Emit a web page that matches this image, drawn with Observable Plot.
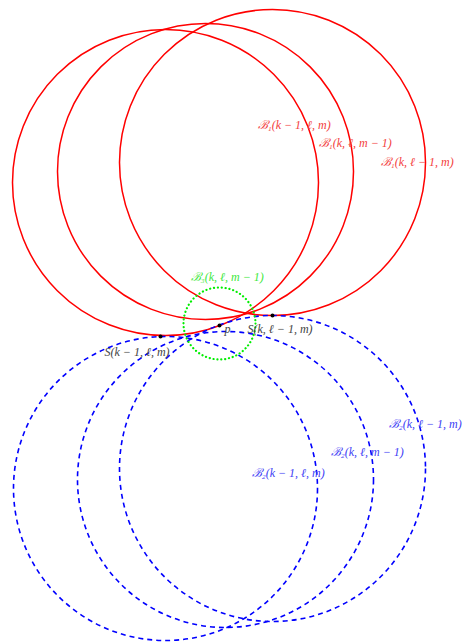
<!DOCTYPE html>
<html><head><meta charset="utf-8">
<script src="https://cdn.jsdelivr.net/npm/d3@7"></script>
<script src="https://cdn.jsdelivr.net/npm/@observablehq/plot@0.6"></script>
<style>body{margin:0;background:#fff}</style>
</head><body><div id="chart"></div>
<script>
// circle centres (x, y downward) and radii
const redNames = ["ℬ₁(k − 1, ℓ, m)", "ℬ₁(k, ℓ, m − 1)", "ℬ₁(k, ℓ − 1, m)"];
const redCx = [165, 205, 272];
const redCy = [182, 171, 162];
const redR = [153, 148, 153];
const redLabelX = [257, 318, 380];
const redLabelY = [125, 143, 162];

const blueNames = ["ℬ₂(k − 1, ℓ, m)", "ℬ₂(k, ℓ, m − 1)", "ℬ₂(k, ℓ − 1, m)"];
const blueCx = [165, 225, 272];
const blueCy = [488, 479, 468];
const blueR = [152, 148, 153];
const blueLabelX = [251, 330, 388];
const blueLabelY = [473, 452, 424];

const greenNames = ["ℬ₃(k, ℓ, m − 1)"];
const greenCx = [219];
const greenCy = [323];
const greenR = [36];
const greenLabelX = [190];
const greenLabelY = [277];

const pointNames = ["S(k − 1, ℓ, m)", "p", "S(k, ℓ − 1, m)"];
const pointX = [160, 219, 272];
const pointY = [336, 325, 315];
const pointLabelX = [104, 224, 247];
const pointLabelY = [352, 329, 329];

const mk = (names, cx, cy, r, lx, ly) => names.map((n, i) => ({name: n, cx: cx[i], cy: cy[i], r: r[i], lx: lx[i], ly: ly[i]}));
const red = mk(redNames, redCx, redCy, redR, redLabelX, redLabelY);
const blue = mk(blueNames, blueCx, blueCy, blueR, blueLabelX, blueLabelY);
const green = mk(greenNames, greenCx, greenCy, greenR, greenLabelX, greenLabelY);
const pts = pointNames.map((n, i) => ({name: n, x: pointX[i], y: pointY[i], lx: pointLabelX[i], ly: pointLabelY[i]}));

const font = "'Liberation Serif', 'DejaVu Serif', serif";
const chart = Plot.plot({
  width: 462, height: 644,
  margin: 0,
  x: {domain: [0, 462], axis: null},
  y: {domain: [0, 644], reverse: true, axis: null},
  r: {type: "identity"},
  style: {fontFamily: font, background: "white"},
  marks: [
    Plot.dot(red, {x: "cx", y: "cy", r: "r", stroke: "#ff0000", fill: "none", strokeWidth: 1.5}),
    Plot.dot(blue, {x: "cx", y: "cy", r: "r", stroke: "#0000ff", fill: "none", strokeWidth: 1.6, strokeDasharray: "5,4"}),
    Plot.dot(green, {x: "cx", y: "cy", r: "r", stroke: "#00ee00", fill: "none", strokeWidth: 2.2, strokeDasharray: "0.1,3.8", strokeLinecap: "round"}),
    Plot.dot(pts, {x: "x", y: "y", r: 2, fill: "black"}),
    Plot.text(red, {x: "lx", y: "ly", text: "name", fill: "#f34040", textAnchor: "start", fontSize: 12, fontStyle: "italic"}),
    Plot.text(blue, {x: "lx", y: "ly", text: "name", fill: "#4040f5", textAnchor: "start", fontSize: 12, fontStyle: "italic"}),
    Plot.text(green, {x: "lx", y: "ly", text: "name", fill: "#40e840", textAnchor: "start", fontSize: 12, fontStyle: "italic"}),
    Plot.text(pts, {x: "lx", y: "ly", text: "name", fill: "#444", textAnchor: "start", fontSize: 12, fontStyle: "italic"})
  ]
});
document.getElementById("chart").append(chart);
</script></body></html>
